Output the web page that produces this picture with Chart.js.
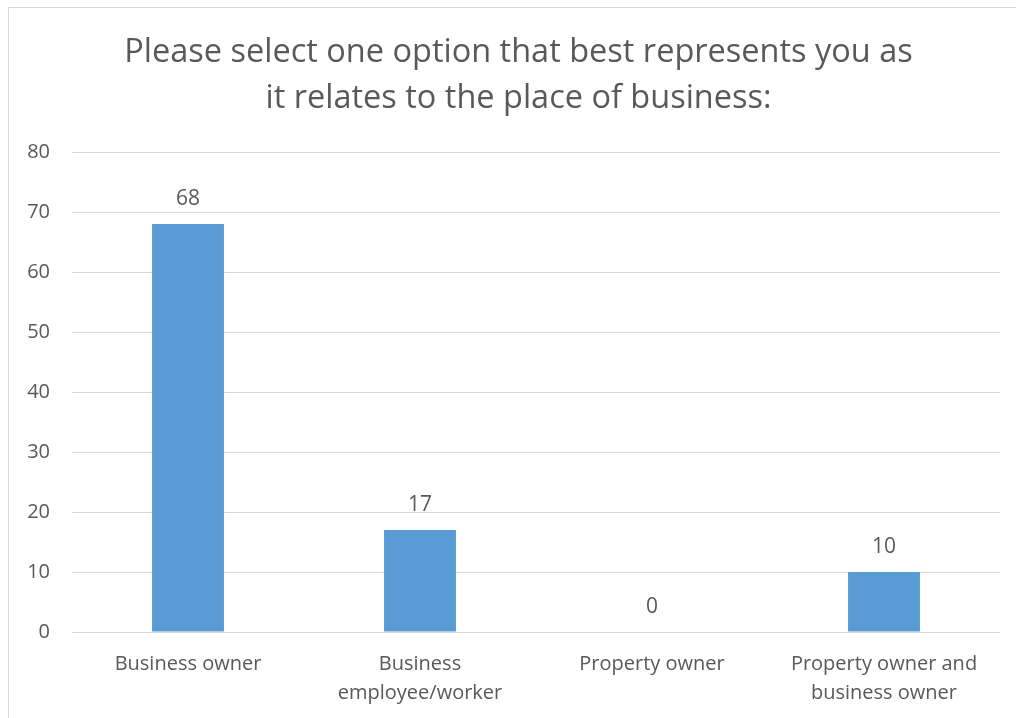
<!DOCTYPE html>
<html>
<head>
<meta charset="utf-8">
<script src="https://cdn.jsdelivr.net/npm/chart.js@4/dist/chart.umd.min.js"></script>
<style>
    html, body { margin: 0; padding: 0; background: #fff; overflow: hidden; }
    #frame { position: absolute; left: 8px; top: 7px; width: 1100px; height: 800px; border: 1px solid #d9d9d9; }
    #chart { position: absolute; left: 0; top: 0; }
</style>
</head>
<body>
<div id="frame"></div>
<canvas id="chart" width="1016" height="718"></canvas>
<script>
(function () {
    'use strict';

    var titleLines = ['Please select one option that best represents you as', 'it relates to the place of business:'];
    var categories = [
        ['Business owner'],
        ['Business', 'employee/worker'],
        ['Property owner'],
        ['Property owner and', 'business owner']
    ];
    var values = [68, 17, 0, 10];
    var yMin = 0, yMax = 80, yStep = 10;

    var textColor = '#595959';
    var fontFamily = '"Open Sans", "Noto Sans", sans-serif';

    // titre dessiné à la main : il est centré sur le cadre, pas sur la zone du graphique
    var centeredTitle = {
        id: 'centeredTitle',
        afterDraw: function (chart) {
            var ctx = chart.ctx;
            ctx.save();
            ctx.fillStyle = textColor;
            ctx.font = '32.5px ' + fontFamily;
            ctx.textAlign = 'center';
            ctx.textBaseline = 'middle';
            titleLines.forEach(function (line, i) {
                ctx.fillText(line, 518.5, 53 + i * 46);
            });
            ctx.restore();
        }
    };

    // valeurs au-dessus des barres
    var valueLabels = {
        id: 'valueLabels',
        afterDatasetsDraw: function (chart) {
            var ctx = chart.ctx;
            var meta = chart.getDatasetMeta(0);
            ctx.save();
            ctx.fillStyle = textColor;
            ctx.font = '21px ' + fontFamily;
            ctx.textAlign = 'center';
            ctx.textBaseline = 'middle';
            meta.data.forEach(function (bar, i) {
                ctx.fillText(String(values[i]), bar.x, bar.y - 25);
            });
            ctx.restore();
        }
    };

    new Chart(document.getElementById('chart'), {
        type: 'bar',
        data: {
            labels: categories,
            datasets: [{
                data: values,
                backgroundColor: '#5b9bd5',
                borderWidth: 0,
                categoryPercentage: 1,
                barPercentage: 0.31
            }]
        },
        options: {
            responsive: false,
            animation: false,
            layout: { padding: { left: 0, right: 16, top: 152, bottom: 0 } },
            plugins: {
                legend: { display: false },
                tooltip: { enabled: false },
                title: { display: false }
            },
            scales: {
                x: {
                    grid: { display: false },
                    border: { display: false },
                    ticks: {
                        color: textColor,
                        font: { family: fontFamily, size: 20, lineHeight: 29 / 20 },
                        padding: 10,
                        maxRotation: 0,
                        autoSkip: false
                    },
                    afterFit: function (scale) { scale.height = 86; }
                },
                y: {
                    min: yMin,
                    max: yMax,
                    border: { display: false },
                    grid: { color: '#d9d9d9', lineWidth: 1, drawTicks: false },
                    ticks: {
                        stepSize: yStep,
                        color: textColor,
                        font: { family: fontFamily, size: 20 },
                        padding: 22
                    },
                    afterFit: function (scale) { scale.width = 72; }
                }
            }
        },
        plugins: [centeredTitle, valueLabels]
    });
})();
</script>
</body>
</html>
